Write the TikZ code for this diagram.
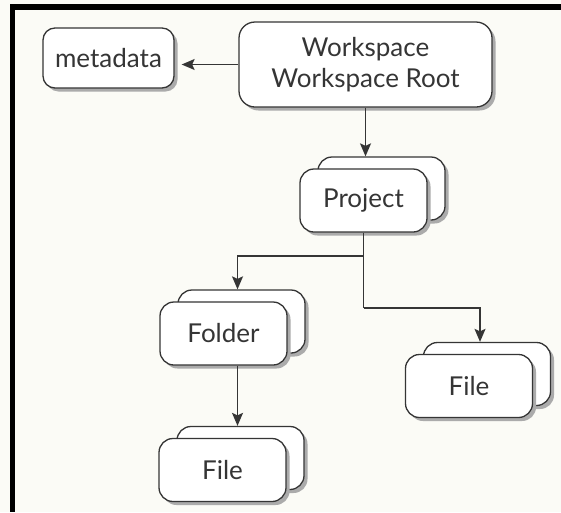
\documentclass[tikz,border=0pt]{standalone}
\usepackage{fontspec}
\setmainfont{Lato}
\usetikzlibrary{arrows.meta,shadows}
\definecolor{paper}{HTML}{FBFBF6}
\definecolor{ink}{HTML}{353535}
\definecolor{shade}{HTML}{ABABAB}
\tikzset{
  box/.style={draw=ink, line width=1.3pt, fill=white, rounded corners=14pt,
    text=ink, font=\fontsize{26}{31}\selectfont, align=center, inner sep=0pt,
    drop shadow={shadow xshift=3.5pt, shadow yshift=-3.5pt, fill=shade, opacity=1}},
  card/.style={box, minimum width=127pt, minimum height=63pt},
  link/.style={draw=ink, line width=1.4pt},
  arr/.style={link, -{Stealth[length=13pt,width=11pt,inset=2.5pt]}},
}
\begin{document}
\begin{tikzpicture}[x=1pt,y=-1pt]
  % page and frame
  \fill[paper] (0,0) rectangle (561,512);
  \useasboundingbox (0,0) rectangle (561,512);
  \fill[black] (10,4) rectangle (561,10);
  \fill[black] (10,4) rectangle (15,512);

  % top level
  \node[box, minimum width=131pt, minimum height=60pt, rounded corners=12pt] (meta) at (108.5,58) {metadata};
  \node[box, minimum width=253pt, minimum height=85pt, rounded corners=16pt] (ws) at (365.5,64.5) {Workspace\\Workspace Root};

  % stacked cards: back sheet first, then front sheet
  \node[card] (projB) at (381.5,188.5) {};
  \node[card] (proj) at (363.5,200.5) {Project};

  \node[card] (folderB) at (241.5,321.5) {};
  \node[card] (folder) at (223.5,333.5) {Folder};

  \node[card] (fileLB) at (240.5,458) {};
  \node[card] (fileL) at (222.5,470) {File};

  \node[card] (fileRB) at (487,374) {};
  \node[card] (fileR) at (469,386) {File};

  % connectors
  \draw[arr] (ws.west) -- ([xshift=7pt]ws.west -| meta.east);
  \draw[arr] (ws.south) -- (ws.south |- projB.north);

  \coordinate (forkA) at (363.5,256);
  \coordinate (forkB) at (363.5,308);
  \draw[link] (proj.south) -- (forkB);
  \draw[arr] (forkA) -| ([xshift=-4pt]folderB.north);
  \draw[arr] (forkB) -| ([xshift=-7pt]fileRB.north);
  \draw[arr] ([xshift=14pt]folder.south) -- ([xshift=14pt]folder.south |- fileLB.north);
\end{tikzpicture}
\end{document}
